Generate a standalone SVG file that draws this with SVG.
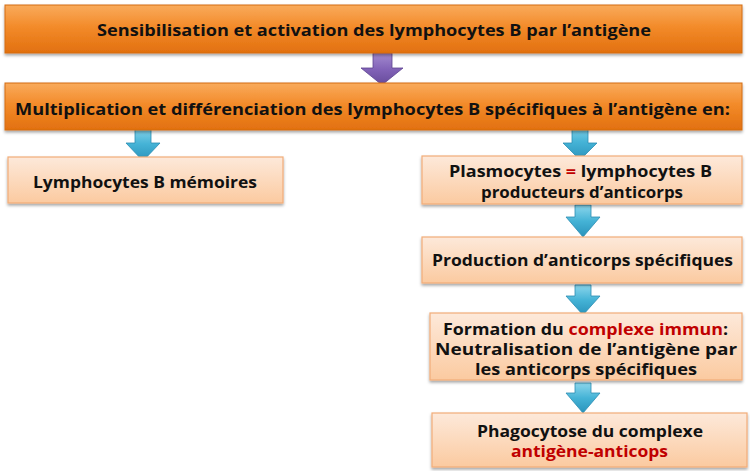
<svg xmlns="http://www.w3.org/2000/svg" width="750" height="471" viewBox="0 0 750 471">
<defs>
<linearGradient id="gOrange" x1="0" y1="0" x2="0" y2="1">
<stop offset="0" stop-color="#f9ab5c"/>
<stop offset="0.45" stop-color="#f38b2a"/>
<stop offset="1" stop-color="#e2700f"/>
</linearGradient>
<linearGradient id="gPeach" x1="0" y1="0" x2="0" y2="1">
<stop offset="0" stop-color="#fde9da"/>
<stop offset="1" stop-color="#fbcaa0"/>
</linearGradient>
<linearGradient id="gCyan" x1="0" y1="0" x2="0" y2="1">
<stop offset="0" stop-color="#8cd6ec"/>
<stop offset="0.5" stop-color="#45b3d6"/>
<stop offset="1" stop-color="#2a93bb"/>
</linearGradient>
<linearGradient id="gPurple" x1="0" y1="0" x2="0" y2="1">
<stop offset="0" stop-color="#a48bd0"/>
<stop offset="0.5" stop-color="#8263b8"/>
<stop offset="1" stop-color="#664a9a"/>
</linearGradient>
<filter id="shadow" x="-5%" y="-20%" width="110%" height="150%">
<feDropShadow dx="0" dy="2" stdDeviation="1.5" flood-color="#000" flood-opacity="0.35"/>
</filter>
</defs>
<style>
.bar{fill:url(#gOrange);stroke:#d36c12;stroke-width:1;filter:url(#shadow)}
.box{fill:url(#gPeach);stroke:#f2ac78;stroke-width:1.2;filter:url(#shadow)}
.t{font-family:"Open Sans","DejaVu Sans",sans-serif;font-weight:700;font-size:16px;fill:#111}
.red{fill:#c00000}
.cy{fill:url(#gCyan);stroke:#2b8db3;stroke-width:0.8}
.pu{fill:url(#gPurple);stroke:#5d4390;stroke-width:0.8}
</style>

<g id="connectors">
<path class="pu" d="M373,53 H392 V68 H403 L382,85 L361,68 H373 Z"/>
<path class="cy" d="M135,127 H151 V143 H160 L143,161 L126,143 H135 Z"/>
<path class="cy" d="M572,124 H588 V143 H597 L580,160 L563,143 H572 Z"/>
<path class="cy" d="M575,205 H591 V217 H600 L583,237 L566,217 H575 Z"/>
<path class="cy" d="M575,285 H591 V296 H600 L583,315 L566,296 H575 Z"/>
<path class="cy" d="M575,383 H591 V393 H600 L583,413 L566,393 H575 Z"/>
</g>

<g id="n1">
<rect class="bar" x="5" y="5" width="737" height="48"/>
<text class="t" x="97" y="36" textLength="554" lengthAdjust="spacingAndGlyphs">Sensibilisation et activation des lymphocytes B par l’antigène</text>
</g>

<g id="n2">
<rect class="bar" x="5" y="83" width="737" height="47"/>
<text class="t" x="15" y="115" textLength="715" lengthAdjust="spacingAndGlyphs">Multiplication et différenciation des lymphocytes B spécifiques à l’antigène en:</text>
</g>

<g id="n3">
<rect class="box" x="8" y="157" width="275" height="46"/>
<text class="t" x="33" y="188" textLength="224" lengthAdjust="spacingAndGlyphs">Lymphocytes B mémoires</text>
</g>

<g id="n4">
<rect class="box" x="422" y="156" width="320" height="48"/>
<text class="t" x="449" y="177" textLength="263" lengthAdjust="spacingAndGlyphs">Plasmocytes <tspan class="red">=</tspan> lymphocytes B</text>
<text class="t" x="481" y="198" textLength="202" lengthAdjust="spacingAndGlyphs">producteurs d’anticorps</text>
</g>

<g id="n5">
<rect class="box" x="422" y="237" width="320" height="46"/>
<text class="t" x="432" y="266" textLength="301" lengthAdjust="spacingAndGlyphs">Production d’anticorps spécifiques</text>
</g>

<g id="n6">
<rect class="box" x="430" y="313" width="312" height="67"/>
<text class="t" x="443" y="335" textLength="285" lengthAdjust="spacingAndGlyphs">Formation du <tspan class="red">complexe immun</tspan>:</text>
<text class="t" x="435" y="355" textLength="302" lengthAdjust="spacingAndGlyphs">Neutralisation de l’antigène par</text>
<text class="t" x="475" y="375" textLength="222" lengthAdjust="spacingAndGlyphs">les anticorps spécifiques</text>
</g>

<g id="n7">
<rect class="box" x="432" y="413" width="315" height="54"/>
<text class="t" x="477" y="437" textLength="226" lengthAdjust="spacingAndGlyphs">Phagocytose du complexe</text>
<text class="t red" x="511" y="457" textLength="157" lengthAdjust="spacingAndGlyphs">antigène-anticops</text>
</g>
</svg>
